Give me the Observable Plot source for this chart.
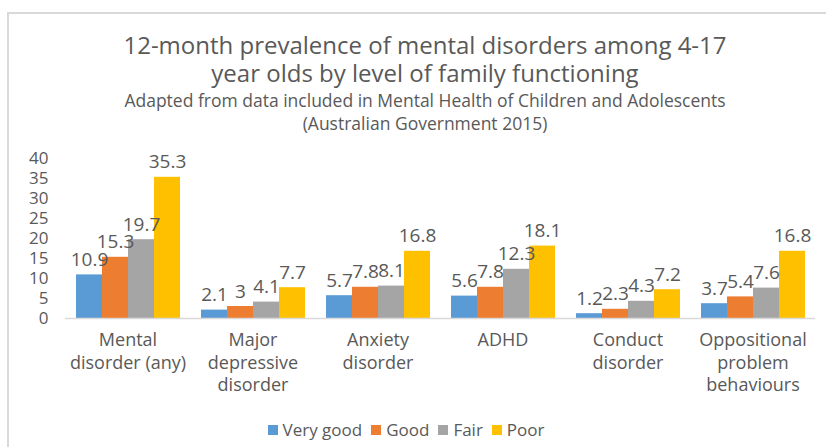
<!DOCTYPE html>
<html>
<head>
<meta charset="utf-8">
<script src="https://cdn.jsdelivr.net/npm/d3@7"></script>
<script src="https://cdn.jsdelivr.net/npm/@observablehq/plot@0.6"></script>
<style>
  body { margin: 0; background: #fff; font-family: "Open Sans", sans-serif; color: #595959; }
  #wrap { position: relative; width: 826px; height: 447px; overflow: hidden; }
  #border { position: absolute; left: 7px; top: 12px; width: 900px; height: 500px; border: 2px solid #D9D9D9; box-sizing: border-box; }
  #title { position: absolute; left: 0; width: 850px; top: 31px; text-align: center; font-size: 24px; line-height: 28px; }
  #subtitle { position: absolute; left: 0; width: 850px; top: 89px; text-align: center; font-size: 17.5px; line-height: 23px; }
  #chart { position: absolute; left: 0; top: 140px; }
  #legend { position: absolute; left: 0; width: 812px; top: 418px; display: flex; justify-content: center; gap: 9px; font-size: 17px; line-height: 24px; }
  #legend span.sw { display: inline-block; width: 10px; height: 10px; margin-right: 5px; vertical-align: 1px; }
</style>
</head>
<body>
<div id="wrap">
  <div id="border"></div>
  <div id="title">12-month prevalence of mental disorders among 4-17<br>year olds by level of family functioning</div>
  <div id="subtitle">Adapted from data included in Mental Health of Children and Adolescents<br>(Australian Government 2015)</div>
  <div id="chart"></div>
  <div id="legend"></div>
</div>
<script>
const categories = ["Mental\ndisorder (any)", "Major\ndepressive\ndisorder", "Anxiety\ndisorder", "ADHD", "Conduct\ndisorder", "Oppositional\nproblem\nbehaviours"];
const levels = ["Very good", "Good", "Fair", "Poor"];
const veryGood = [10.9, 2.1, 5.7, 5.6, 1.2, 3.7];
const good = [15.3, 3, 7.8, 7.8, 2.3, 5.4];
const fair = [19.7, 4.1, 8.1, 12.3, 4.3, 7.6];
const poor = [35.3, 7.7, 16.8, 18.1, 7.2, 16.8];
const colors = ["#5B9BD5", "#ED7D31", "#A5A5A5", "#FFC000"];
const yTicks = [0, 5, 10, 15, 20, 25, 30, 35, 40];

const series = [veryGood, good, fair, poor];
const data = [];
categories.forEach((c, i) => {
  levels.forEach((l, j) => data.push({cat: c, level: l, value: series[j][i]}));
});

const font = "Open Sans, sans-serif";
const chart = Plot.plot({
  width: 826,
  height: 268,
  marginTop: 18,
  marginLeft: 65,
  marginRight: 11,
  marginBottom: 90,
  style: {fontFamily: font, color: "#595959", background: "transparent"},
  fx: {domain: categories, paddingInner: 0.16, paddingOuter: 0.08, axis: null, label: null},
  x: {domain: levels, padding: 0, axis: null},
  y: {domain: [0, 40], axis: null, nice: false},
  color: {domain: levels, range: colors},
  marks: [
    Plot.barY(data, {fx: "cat", x: "level", y: "value", fill: "level"}),
    Plot.ruleY([0], {stroke: "#D9D9D9", strokeWidth: 1.5, insetLeft: -10, insetRight: -10}),
    Plot.text(yTicks, {fx: () => categories[0], y: d => d, text: d => String(d), frameAnchor: "left", textAnchor: "end", dx: -27, fontSize: 17, fill: "#595959"}),
    Plot.text(data, {fx: "cat", x: "level", y: "value", text: d => String(d.value), dy: -9, lineAnchor: "bottom", fontSize: 19, fill: "#595959"}),
    Plot.text(categories, {fx: d => d, text: d => d, frameAnchor: "bottom", lineAnchor: "top", dy: 11, lineHeight: 1.27, fontSize: 18, fill: "#595959"})
  ]
});
document.getElementById("chart").appendChild(chart);

const legend = document.getElementById("legend");
levels.forEach((l, i) => {
  const item = document.createElement("div");
  item.innerHTML = `<span class="sw" style="background:${colors[i]}"></span>${l}`;
  legend.appendChild(item);
});
</script>
</body>
</html>
